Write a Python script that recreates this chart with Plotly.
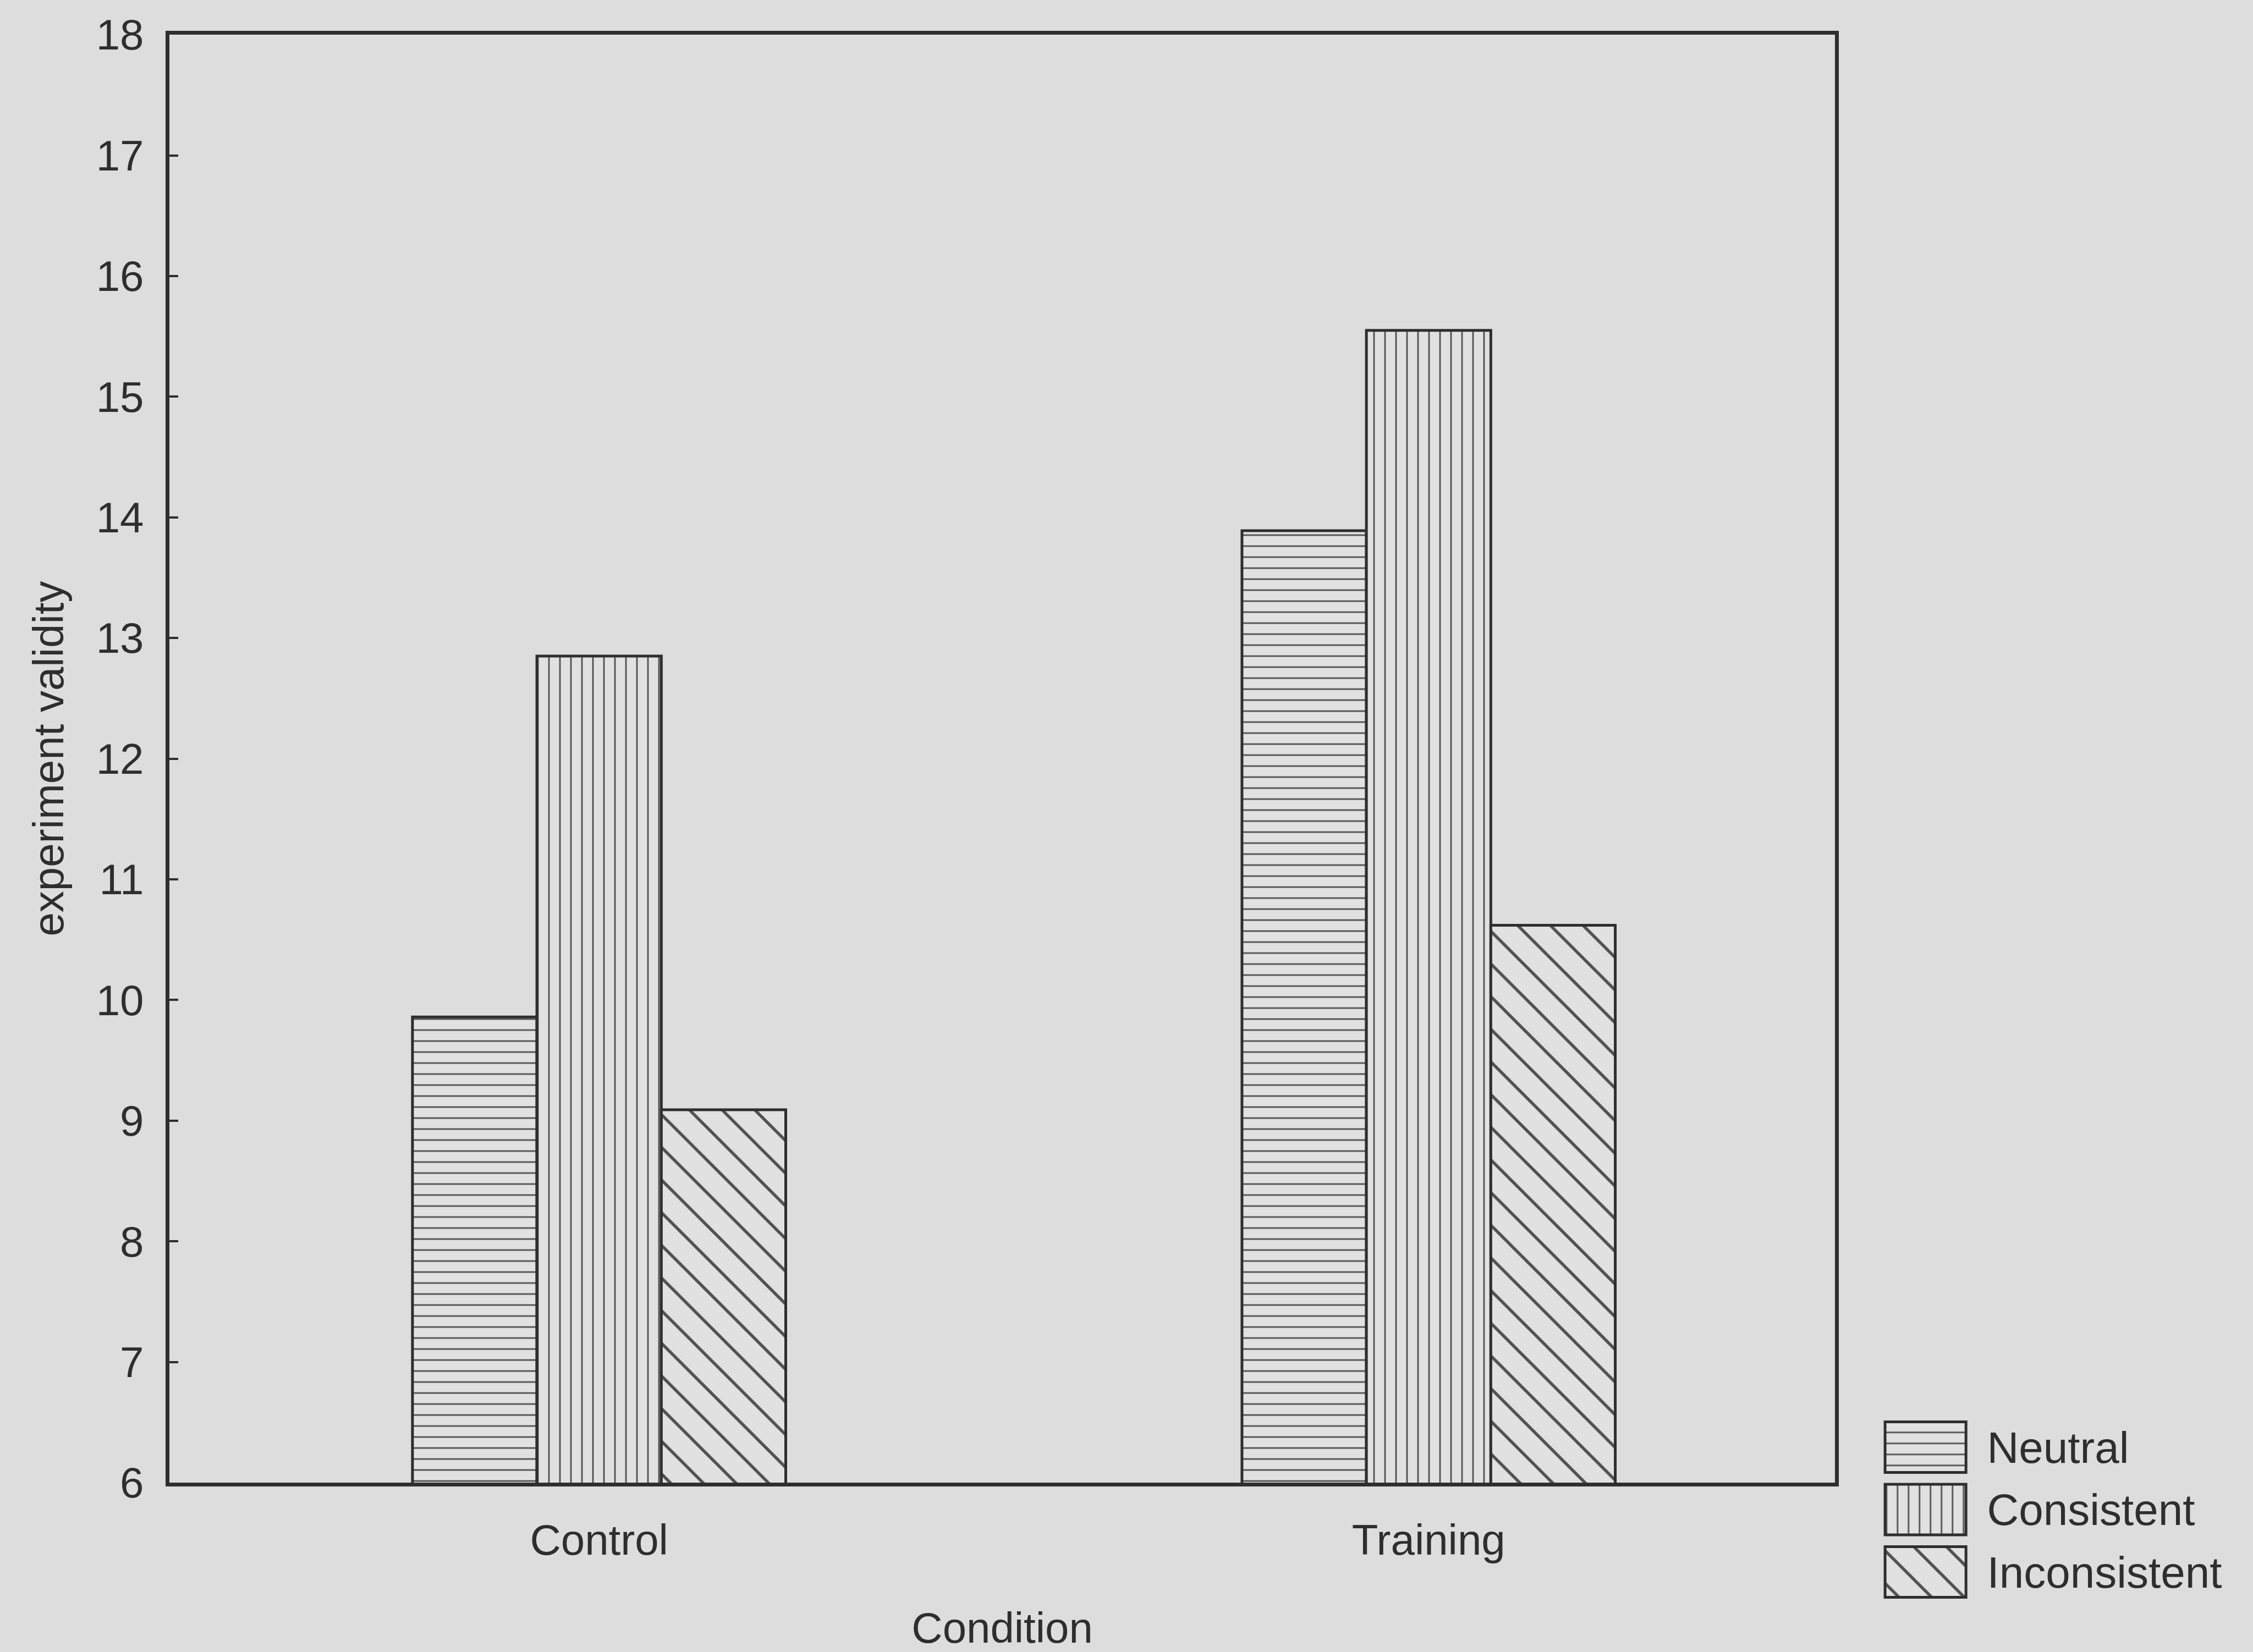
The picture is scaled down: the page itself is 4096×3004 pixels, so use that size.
import plotly.graph_objects as go

# ---------------- data ----------------
categories = ["Control", "Training"]
series_names = ["Neutral", "Consistent", "Inconsistent"]
neutral = [9.86, 13.89]
consistent = [12.85, 15.55]
inconsistent = [9.09, 10.62]
y_ticks = [6, 7, 8, 9, 10, 11, 12, 13, 14, 15, 16, 17, 18]
x_title = "Condition"
y_title = "experiment validity"
swatch_len = [1, 1, 1]  # legend swatches (full width of the legend box axis)

# ---------------- style ----------------
W, H = 4096, 3004
BG = "#dddddd"
BAR_BG = "#e1e1e1"
INK = "#2e2e2e"
HATCH = "#505050"
FONT = "Liberation Sans, Arial, sans-serif"

series_values = {"Neutral": neutral, "Consistent": consistent, "Inconsistent": inconsistent}
pattern_style = {
    "Neutral": dict(shape="-", size=20, solidity=0.14),
    "Consistent": dict(shape="|", size=20, solidity=0.14),
    "Inconsistent": dict(shape="\\", size=42, solidity=0.13),
}

fig = go.Figure()

for name in series_names:
    ps = pattern_style[name]
    fig.add_trace(go.Bar(
        x=categories, y=series_values[name], name=name,
        xaxis="x", yaxis="y",
        marker=dict(
            color=BAR_BG,
            line=dict(color=INK, width=5),
            pattern=dict(shape=ps["shape"], size=ps["size"], solidity=ps["solidity"],
                         fgcolor=HATCH, bgcolor=BAR_BG, fillmode="replace"),
        ),
        showlegend=False,
        hovertemplate="%{x}, " + name + ": %{y}<extra></extra>",
    ))

# legend drawn as a small bar subplot so the hatched swatches are full size
fig.add_trace(go.Bar(
    x=swatch_len, y=series_names, orientation="h",
    xaxis="x2", yaxis="y2", width=0.81,
    marker=dict(
        color=BAR_BG,
        line=dict(color=INK, width=5),
        pattern=dict(shape=[pattern_style[n]["shape"] for n in series_names],
                     size=[pattern_style[n]["size"] for n in series_names],
                     solidity=[pattern_style[n]["solidity"] for n in series_names],
                     fgcolor=HATCH, bgcolor=BAR_BG, fillmode="replace"),
    ),
    showlegend=False, hoverinfo="skip",
))

fig.update_layout(
    width=W, height=H,
    margin=dict(l=0, r=0, t=0, b=0, autoexpand=False),
    paper_bgcolor=BG, plot_bgcolor=BG,
    barmode="group", bargap=0.55, bargroupgap=0,
    font=dict(family=FONT, size=78, color=INK),
    showlegend=False,
    xaxis=dict(
        domain=[0.0752, 0.8145], type="category", range=[-0.518, 1.49],
        showline=True, linecolor=INK, linewidth=7, mirror=True,
        ticks="", showgrid=False, zeroline=False,
        ticklabelstandoff=30,
        title=dict(text=x_title, standoff=92, font=dict(size=78)),
    ),
    yaxis=dict(
        domain=[0.1025, 0.979], range=[6, 18], tickvals=y_ticks,
        ticks="inside", ticklen=16, tickwidth=4, tickcolor=INK,
        showline=True, linecolor=INK, linewidth=7, mirror=True,
        showgrid=False, zeroline=False,
        ticklabelstandoff=24,
        title=dict(text=y_title, standoff=36, font=dict(size=78)),
    ),
    xaxis2=dict(domain=[0.8349, 0.8744], anchor="y2", range=[-0.05, 1.05], visible=False),
    yaxis2=dict(
        domain=[0.0295, 0.1429], anchor="x2", side="right", type="category",
        autorange="reversed", showline=False, ticks="", showgrid=False, zeroline=False,
        tickfont=dict(size=80, color=INK), ticklabelstandoff=30,
    ),
)

fig.write_html(
    "out.html",
    config={"displayModeBar": False},
    post_script="document.body.style.margin='0';document.body.style.background='#dddddd';",
)
